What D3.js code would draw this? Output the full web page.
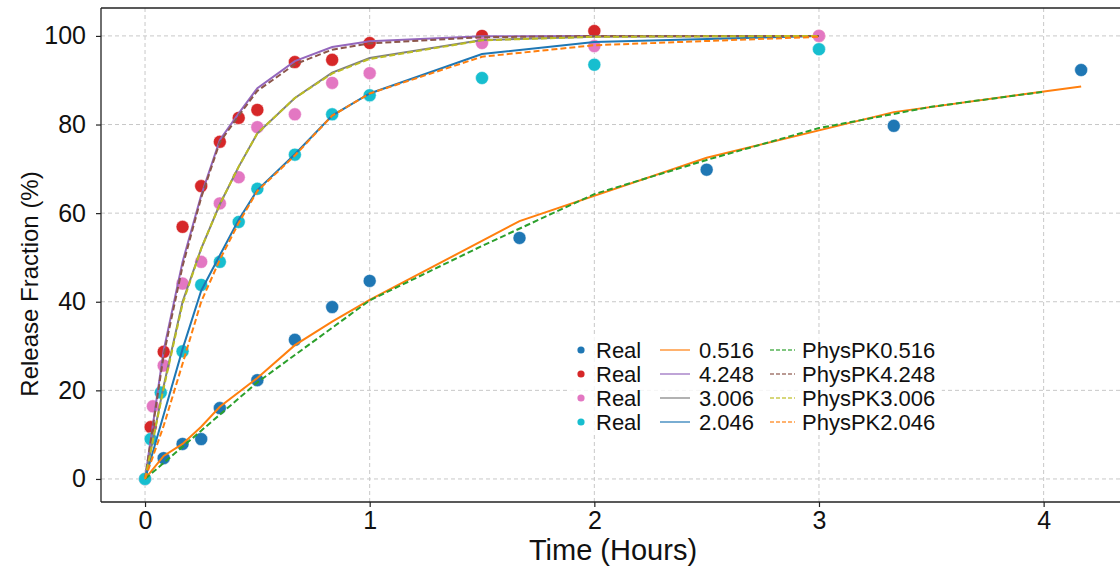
<!DOCTYPE html>
<html>
<head>
<meta charset="utf-8">
<script src="https://cdn.jsdelivr.net/npm/d3@7"></script>
<style>
  html, body { margin: 0; padding: 0; background: #fff; }
  svg { display: block; font-family: "Liberation Sans", Arial, sans-serif; }
</style>
</head>
<body>
<svg id="chart" width="1120" height="567"></svg>
<script>
// ---------------- data ----------------
const xTicks = [0, 1, 2, 3, 4];
const yTicks = [0, 20, 40, 60, 80, 100];

// measured points ("Real")
const tBlue = [0, 0.083, 0.167, 0.25, 0.333, 0.5, 0.667, 0.833, 1.0, 1.667, 2.5, 3.333, 4.167];
const yBlue = [0, 4.7, 7.9, 9.0, 16.0, 22.3, 31.4, 38.8, 44.7, 54.4, 69.8, 79.7, 92.3];

const tRed = [0, 0.025, 0.083, 0.167, 0.25, 0.333, 0.417, 0.5, 0.667, 0.833, 1.0, 1.5, 2.0, 3.0];
const yRed = [0, 11.7, 28.7, 56.9, 66.1, 76.1, 81.5, 83.3, 94.1, 94.6, 98.4, 100, 101.1, 100];

const tPink = [0, 0.035, 0.083, 0.167, 0.25, 0.333, 0.417, 0.5, 0.667, 0.833, 1.0, 1.5, 2.0, 3.0];
const yPink = [0, 16.4, 25.6, 44.1, 49.0, 62.2, 68.1, 79.4, 82.3, 89.4, 91.6, 98.4, 97.7, 100];

const tCyan = [0, 0.025, 0.07, 0.167, 0.25, 0.333, 0.417, 0.5, 0.667, 0.833, 1.0, 1.5, 2.0, 3.0];
const yCyan = [0, 9.0, 19.5, 28.8, 43.8, 49.0, 58.0, 65.5, 73.2, 82.3, 86.6, 90.5, 93.5, 97.0];

// model curves
const tFast = [0, 0.083, 0.167, 0.25, 0.333, 0.417, 0.5, 0.667, 0.833, 1.0, 1.5, 2.0, 3.0];
const m4248 = [0, 29, 49, 64, 76.5, 82.5, 88.2, 94.3, 97.5, 98.8, 99.9, 100, 100];
const p4248 = [0, 28, 48, 63.5, 76, 82, 87.6, 93.6, 96.9, 98.3, 99.7, 100, 100];
const m3006 = [0, 21, 40, 52, 62, 70.5, 78, 86, 91.7, 95, 99.1, 99.8, 100];
const p3006 = [0, 20.5, 39.5, 52, 62, 70.5, 78, 86, 91.5, 94.8, 99.0, 99.8, 100];
const m2046 = [0, 14.5, 29.3, 42.5, 50.5, 58.5, 65.2, 73.3, 82, 87, 95.9, 98.6, 100];
const p2046 = [0, 12, 26, 40, 49.5, 57.8, 65, 73, 82, 87, 95.3, 97.9, 99.8];

const m0516 = [0, 5.2, 7.9, 11.8, 16.3, 22.8, 30.2, 35.5, 40.4, 58.2, 72.5, 82.8, 88.6];
const tPhys0516 = [0, 0.25, 0.5, 1.0, 1.5, 2.0, 2.5, 3.0, 3.5, 4.0];
const p0516 = [0, 10.9, 21.8, 40.3, 52.6, 64.3, 72.0, 79.2, 84.0, 87.4];

const legendReal = ["Real", "Real", "Real", "Real"];
const legendModel = ["0.516", "4.248", "3.006", "2.046"];
const legendPhys = ["PhysPK0.516", "PhysPK4.248", "PhysPK3.006", "PhysPK2.046"];

// ---------------- layout ----------------
const C = {
  blue: "#1f77b4", orange: "#ff7f0e", green: "#2ca02c", red: "#d62728",
  purple: "#9467bd", brown: "#8c564b", pink: "#e377c2", gray: "#7f7f7f",
  olive: "#bcbd22", cyan: "#17becf"
};

const svg = d3.select("#chart");
const L = 101, R = 1129, T = 8, B = 502;

const x = d3.scaleLinear().domain([-0.196, 4.38]).range([L, R]);
const y = d3.scaleLinear().domain([-5.2, 106.3]).range([B, T]);

// grid
const grid = svg.append("g");
grid.selectAll("line.v").data(xTicks).join("line")
  .attr("x1", d => x(d)).attr("x2", d => x(d)).attr("y1", T).attr("y2", B)
  .attr("stroke", "#c8c8c8").attr("stroke-width", 1).attr("stroke-dasharray", "4,3");
grid.selectAll("line.h").data(yTicks).join("line")
  .attr("x1", L).attr("x2", 1120).attr("y1", d => y(d)).attr("y2", d => y(d))
  .attr("stroke", "#c8c8c8").attr("stroke-width", 1).attr("stroke-dasharray", "4,3");

// axes
const xAxis = d3.axisBottom(x).tickValues(xTicks).tickFormat(d3.format("d")).tickSize(5).tickPadding(4);
const yAxis = d3.axisLeft(y).tickValues(yTicks).tickFormat(d3.format("d")).tickSize(5).tickPadding(10);
const gx = svg.append("g").attr("transform", `translate(0,${B})`).call(xAxis);
const gy = svg.append("g").attr("transform", `translate(${L},0)`).call(yAxis);
[gx, gy].forEach(g => {
  g.select(".domain").remove();
  g.selectAll(".tick line").attr("stroke", "#222").attr("stroke-width", 1.2);
  g.selectAll(".tick text").attr("fill", "#111").style("font-size", "25px")
    .style("font-family", '"Liberation Sans", Arial, sans-serif');
});

// spines
svg.append("line").attr("x1", L).attr("x2", L).attr("y1", T).attr("y2", B).attr("stroke", "#222").attr("stroke-width", 1.3);
svg.append("line").attr("x1", L).attr("x2", 1120).attr("y1", B).attr("y2", B).attr("stroke", "#222").attr("stroke-width", 1.3);
svg.append("line").attr("x1", L).attr("x2", 1120).attr("y1", T).attr("y2", T).attr("stroke", "#222").attr("stroke-width", 1.3);

// axis labels
svg.append("text").attr("x", 613).attr("y", 560).attr("text-anchor", "middle")
  .style("font-size", "29px").attr("fill", "#111").text("Time (Hours)");
svg.append("text").attr("transform", "translate(38,284) rotate(-90)").attr("text-anchor", "middle")
  .style("font-size", "24px").attr("fill", "#111").text("Release Fraction (%)");

// points
const plot = svg.append("g");
function dots(ts, ys, color) {
  plot.append("g").selectAll("circle").data(ts.map((t, i) => [t, ys[i]])).join("circle")
    .attr("cx", d => x(d[0])).attr("cy", d => y(d[1])).attr("r", 6.5)
    .attr("fill", color).attr("stroke", "#fff").attr("stroke-opacity", 0.6).attr("stroke-width", 0.8);
}
dots(tBlue, yBlue, C.blue);
dots(tRed, yRed, C.red);
dots(tPink, yPink, C.pink);
dots(tCyan, yCyan, C.cyan);

// lines
const lineGen = d3.line().x(d => x(d[0])).y(d => y(d[1]));
function curve(ts, ys, color, dashed) {
  plot.append("path").datum(ts.map((t, i) => [t, ys[i]]))
    .attr("d", lineGen).attr("fill", "none").attr("stroke", color)
    .attr("stroke-width", 2).attr("stroke-dasharray", dashed ? "6,3" : null);
}
curve(tBlue, m0516, C.orange, false);
curve(tFast, m4248, C.purple, false);
curve(tFast, m3006, C.gray, false);
curve(tFast, m2046, C.blue, false);
curve(tPhys0516, p0516, C.green, true);
curve(tFast, p4248, C.brown, true);
curve(tFast, p3006, C.olive, true);
curve(tFast, p2046, C.orange, true);

// legend
const lg = svg.append("g");
lg.append("rect").attr("x", 570).attr("y", 336).attr("width", 372).attr("height", 98)
  .attr("fill", "#fff").attr("fill-opacity", 0.8);
const rowY = [350, 374, 398, 422];
const realColors = [C.blue, C.red, C.pink, C.cyan];
const modelColors = [C.orange, C.purple, C.gray, C.blue];
const physColors = [C.green, C.brown, C.olive, C.orange];
rowY.forEach((ry, i) => {
  lg.append("circle").attr("cx", 581).attr("cy", ry).attr("r", 3.6).attr("fill", realColors[i]);
  lg.append("text").attr("x", 596).attr("y", ry + 8).style("font-size", "22px").attr("fill", "#111").text(legendReal[i]);
  lg.append("line").attr("x1", 660).attr("x2", 690).attr("y1", ry).attr("y2", ry)
    .attr("stroke", modelColors[i]).attr("stroke-width", 2).attr("stroke-opacity", 0.6);
  lg.append("text").attr("x", 699).attr("y", ry + 8).style("font-size", "22px").attr("fill", "#111").text(legendModel[i]);
  lg.append("line").attr("x1", 770).attr("x2", 795).attr("y1", ry).attr("y2", ry)
    .attr("stroke", physColors[i]).attr("stroke-width", 2).attr("stroke-opacity", 0.6).attr("stroke-dasharray", "4,2");
  lg.append("text").attr("x", 802).attr("y", ry + 8).style("font-size", "22px").attr("fill", "#111").text(legendPhys[i]);
});
</script>
</body>
</html>
